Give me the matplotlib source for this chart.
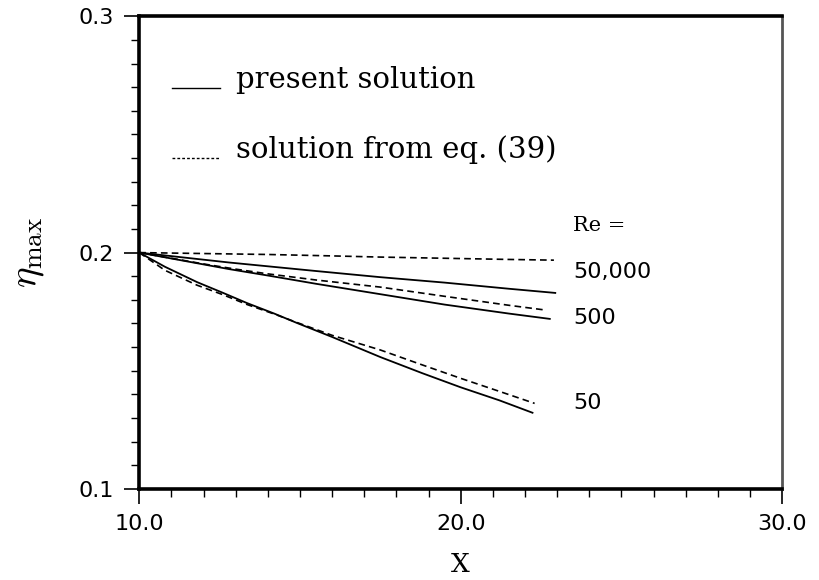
import matplotlib
matplotlib.use("Agg")
import matplotlib.pyplot as plt
from matplotlib.ticker import MultipleLocator

plt.rcParams["mathtext.fontset"] = "cm"

# Re = 50,000
x_s50000 = [10.0, 11.0, 12.0, 12.8, 14.0, 15.5, 17.5, 19.5, 21.5, 22.97]
y_s50000 = [0.2, 0.1985, 0.1970, 0.1958, 0.1942, 0.1922, 0.1896, 0.1873, 0.1847, 0.1829]
x_d50000 = [10.0, 12.0, 14.0, 16.0, 17.5, 19.5, 21.5, 22.9]
y_d50000 = [0.2, 0.1996, 0.1992, 0.1986, 0.1981, 0.1976, 0.1971, 0.1968]

# Re = 500
x_s500 = [10.0, 11.0, 12.0, 12.8, 14.0, 15.5, 17.5, 19.5, 21.5, 22.8]
y_s500 = [0.2, 0.1975, 0.1950, 0.1930, 0.1903, 0.1868, 0.1824, 0.1780, 0.1742, 0.1719]
x_d500 = [10.0, 11.0, 12.0, 13.0, 14.0, 15.5, 17.5, 19.5, 21.5, 22.63]
y_d500 = [0.2, 0.1976, 0.1952, 0.1930, 0.1910, 0.1884, 0.1854, 0.1815, 0.1777, 0.1757]

# Re = 50
x_s50 = [10.0, 10.8, 11.8, 12.6, 13.36, 14.2, 14.91, 16.0, 17.5, 18.8, 20.0, 21.2, 22.26]
y_s50 = [0.2, 0.1940, 0.1875, 0.1830, 0.1786, 0.1742, 0.1702, 0.1643, 0.1558, 0.1490, 0.1430, 0.1375, 0.1321]
x_d50 = [10.0, 10.8, 11.8, 12.6, 13.36, 14.2, 14.91, 16.0, 17.5, 18.8, 20.0, 21.2, 22.3]
y_d50 = [0.2, 0.1925, 0.1862, 0.1822, 0.1780, 0.1740, 0.1704, 0.1650, 0.1588, 0.1525, 0.1468, 0.1413, 0.1362]

re_labels = ["Re =", "50,000", "500", "50"]
re_label_y = [0.2116, 0.1918, 0.1723, 0.1365]

fig = plt.figure(figsize=(8.19, 5.80), dpi=100)
ax = fig.add_axes([0.170, 0.157, 0.785, 0.815])

for xs, ys in [(x_s50000, y_s50000), (x_s500, y_s500), (x_s50, y_s50)]:
    ax.plot(xs, ys, color="black", lw=1.3, solid_capstyle="butt")
for xs, ys in [(x_d50000, y_d50000), (x_d500, y_d500), (x_d50, y_d50)]:
    ax.plot(xs, ys, color="black", lw=1.2, linestyle=(0, (4, 2.5)))

ax.set_xlim(10, 30)
ax.set_ylim(0.1, 0.3)
ax.set_xticks([10, 20, 30])
ax.set_xticklabels(["10.0", "20.0", "30.0"])
ax.set_yticks([0.1, 0.2, 0.3])
ax.set_yticklabels(["0.1", "0.2", "0.3"])
ax.xaxis.set_minor_locator(MultipleLocator(1))
ax.yaxis.set_minor_locator(MultipleLocator(0.01))
ax.tick_params(which="major", direction="out", length=11, width=1.2,
               labelsize=16, pad=7)
ax.tick_params(which="minor", direction="out", length=5.5, width=1.0)

for side in ["left", "bottom", "top"]:
    ax.spines[side].set_linewidth(2.6)
ax.spines["right"].set_linewidth(2.0)
ax.spines["right"].set_color("#555555")

ax.set_ylabel(r"$\eta_{\rm max}$", fontsize=28)
ax.yaxis.set_label_coords(-0.145, 0.5)
ax.set_xlabel("X", fontsize=19, family="DejaVu Serif")
ax.xaxis.label.set_va("baseline")
ax.xaxis.set_label_coords(0.5, -0.176)

# legend drawn as text with short sample lines
ax.plot([11.03, 12.52], [0.2696, 0.2696], color="black", lw=1.0)
ax.text(13.02, 0.2696, "present solution", fontsize=21, family="DejaVu Serif", va="baseline")
ax.plot([11.03, 12.52], [0.2400, 0.2400], color="black", lw=1.0, linestyle=(0, (2, 1.5)))
ax.text(13.02, 0.2400, "solution from eq. (39)", fontsize=21, family="DejaVu Serif", va="baseline")

for lab, yv in zip(re_labels, re_label_y):
    if lab.startswith("Re"):
        ax.text(23.5, yv, lab, fontsize=15, family="DejaVu Serif", va="center", ha="left")
    else:
        ax.text(23.5, yv, lab, fontsize=16, family="DejaVu Sans", va="center", ha="left")

fig.savefig("out.png", dpi=100)
